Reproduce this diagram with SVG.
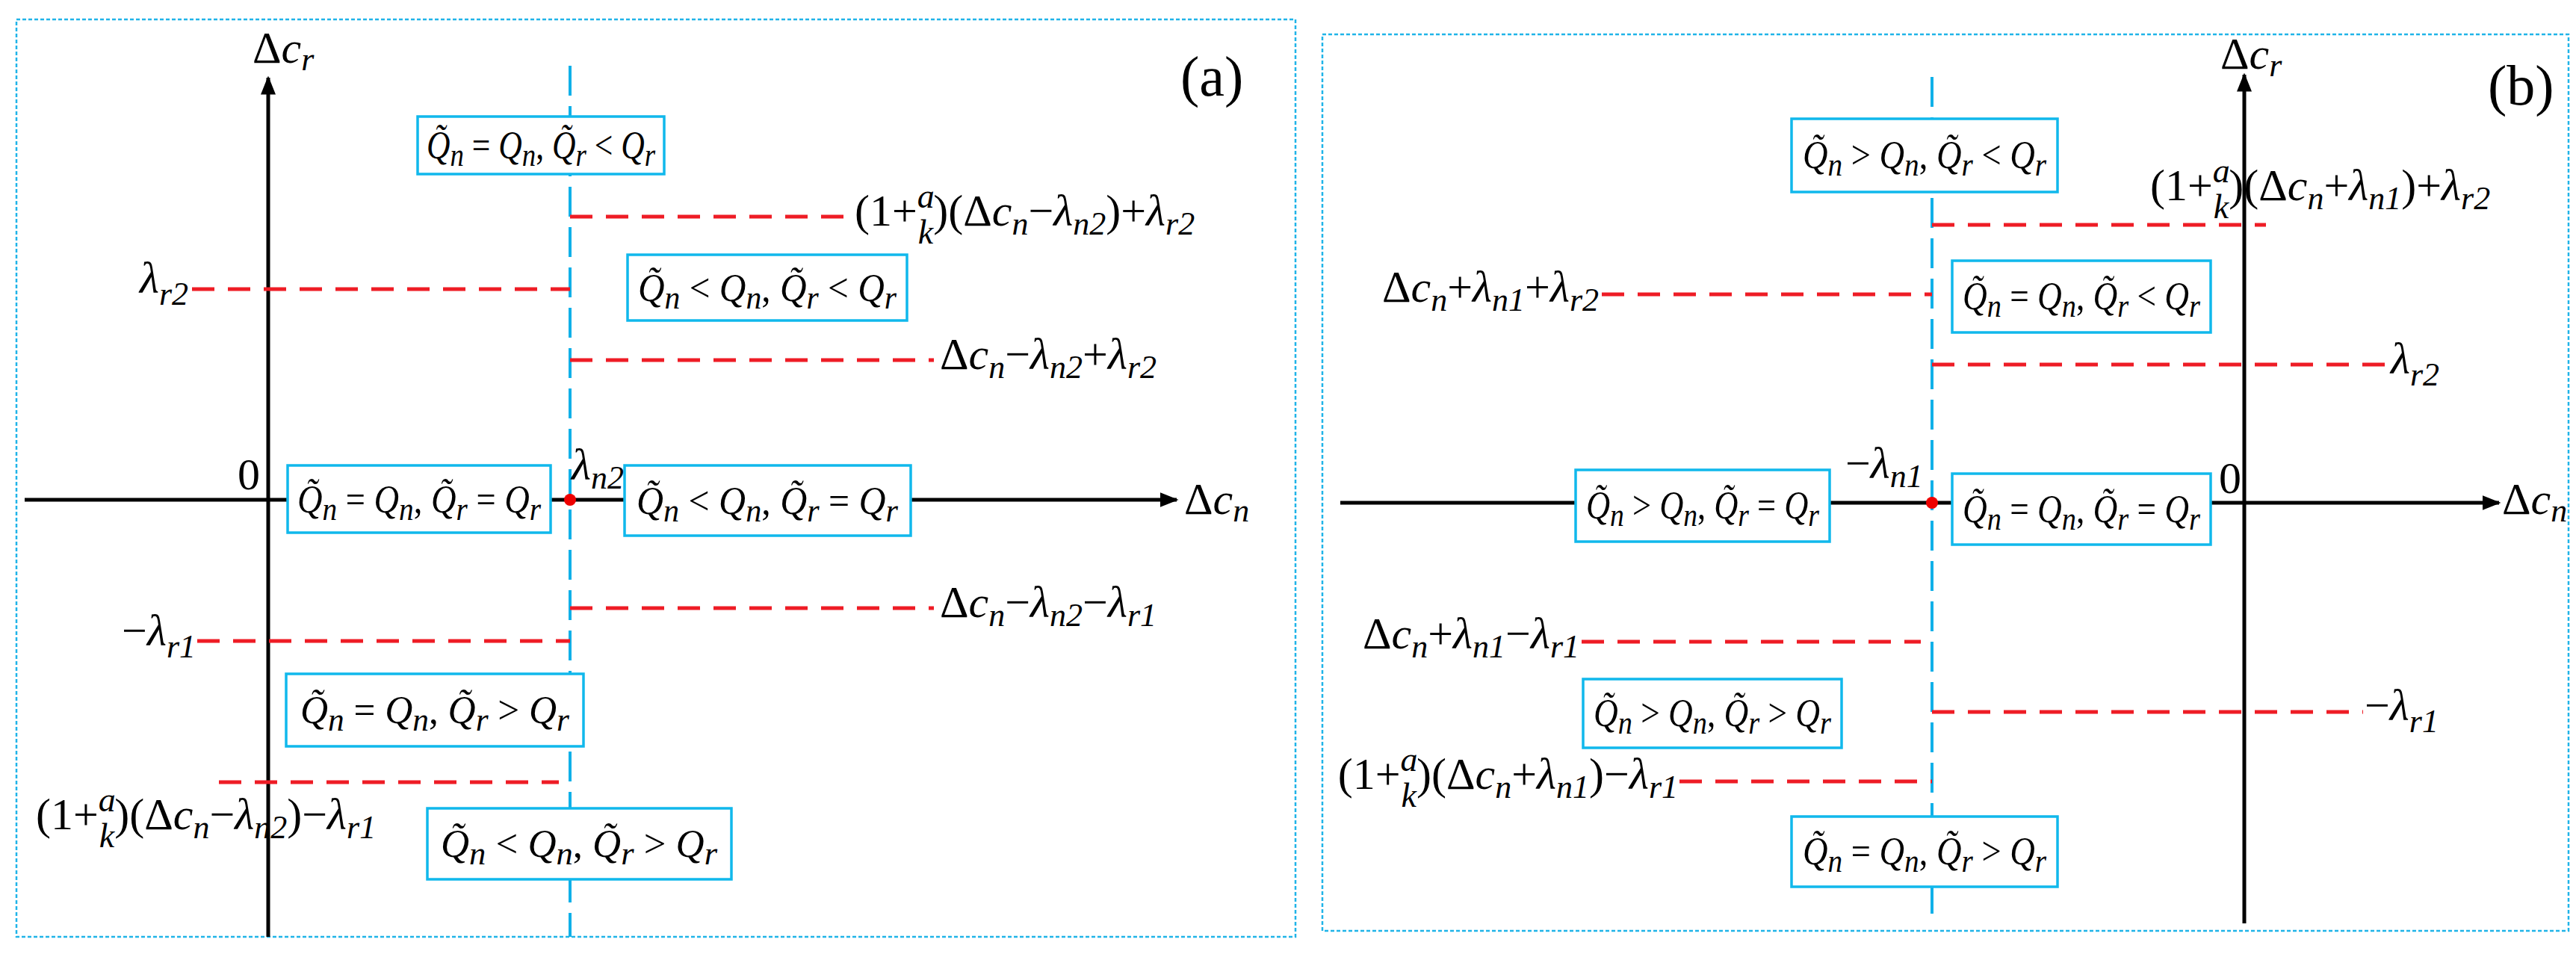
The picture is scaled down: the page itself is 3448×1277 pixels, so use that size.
<svg xmlns="http://www.w3.org/2000/svg" width="3448" height="1277" viewBox="0 0 3448 1277">
<style>
.t{font-family:"Liberation Serif",serif;font-size:60px;fill:#000}
.bt{font-family:"Liberation Serif",serif;font-size:52px;fill:#000}
.i{font-style:italic}
.s{font-size:44px}
.f{font-size:46px;font-style:italic}
.frame{fill:none;stroke:#20b4e8;stroke-width:2.5;stroke-dasharray:5 3}
.ax{stroke:#000;stroke-width:5;fill:none}
.rd{stroke:#ee1c25;stroke-width:5;stroke-dasharray:30 18;fill:none}
.cy{stroke:#10b0e8;stroke-width:4;stroke-dasharray:40 14;fill:none}
.box{fill:#fff;stroke:#10b8ec;stroke-width:3.5}
</style>
<defs>
<marker id="ar" viewBox="0 0 10 10" refX="9" refY="5" markerWidth="5" markerHeight="5" orient="auto" markerUnits="strokeWidth"><path d="M0,1 L10,5 L0,9 z" fill="#000"/></marker>
</defs>
<rect width="3448" height="1277" fill="#fff"/>
<rect class="frame" x="22" y="26" width="1712" height="1228"/>
<rect class="frame" x="1770" y="46" width="1668" height="1200"/>
<g id="connectors">
<line class="ax" x1="359" y1="1254" x2="359" y2="104" marker-end="url(#ar)"/>
<line class="ax" x1="33" y1="669" x2="1575" y2="669" marker-end="url(#ar)"/>
<line class="cy" x1="763" y1="88" x2="763" y2="1254"/>
<line class="rd" x1="763" y1="290" x2="1140" y2="290"/>
<line class="rd" x1="257" y1="387" x2="763" y2="387"/>
<line class="rd" x1="763" y1="482" x2="1250" y2="482"/>
<line class="rd" x1="763" y1="814" x2="1250" y2="814"/>
<line class="rd" x1="264" y1="858" x2="763" y2="858"/>
<line class="rd" x1="293" y1="1047" x2="748" y2="1047"/>
<circle cx="763" cy="669" r="8" fill="#e00"/>
<line class="ax" x1="3004" y1="1236" x2="3004" y2="100" marker-end="url(#ar)"/>
<line class="ax" x1="1794" y1="673" x2="3345" y2="673" marker-end="url(#ar)"/>
<line class="cy" x1="2586" y1="103" x2="2586" y2="1236"/>
<line class="rd" x1="2586" y1="301" x2="3033" y2="301"/>
<line class="rd" x1="2144" y1="394" x2="2586" y2="394"/>
<line class="rd" x1="2586" y1="488" x2="3195" y2="488"/>
<line class="rd" x1="2117" y1="859" x2="2571" y2="859"/>
<line class="rd" x1="2586" y1="953" x2="3163" y2="953"/>
<line class="rd" x1="2248" y1="1046" x2="2586" y2="1046"/>
<circle cx="2586" cy="673" r="8" fill="#e00"/>
</g>
<g id="a1"><rect class="box" x="559" y="156" width="330" height="77"/><text class="bt" x="724" y="212" text-anchor="middle" textLength="306" lengthAdjust="spacingAndGlyphs"><tspan class="i">Q̃</tspan><tspan class="i s" dy="10">n</tspan><tspan dy="-10"> = </tspan><tspan class="i">Q</tspan><tspan class="i s" dy="10">n</tspan><tspan dy="-10">, </tspan><tspan class="i">Q̃</tspan><tspan class="i s" dy="10">r</tspan><tspan dy="-10"> &lt; </tspan><tspan class="i">Q</tspan><tspan class="i s" dy="10">r</tspan></text></g>
<g id="a2"><rect class="box" x="840" y="341" width="374" height="88"/><text class="bt" x="1027" y="403" text-anchor="middle" textLength="346" lengthAdjust="spacingAndGlyphs"><tspan class="i">Q̃</tspan><tspan class="i s" dy="10">n</tspan><tspan dy="-10"> &lt; </tspan><tspan class="i">Q</tspan><tspan class="i s" dy="10">n</tspan><tspan dy="-10">, </tspan><tspan class="i">Q̃</tspan><tspan class="i s" dy="10">r</tspan><tspan dy="-10"> &lt; </tspan><tspan class="i">Q</tspan><tspan class="i s" dy="10">r</tspan></text></g>
<g id="a3"><rect class="box" x="385" y="623" width="352" height="90"/><text class="bt" x="561" y="686" text-anchor="middle" textLength="326" lengthAdjust="spacingAndGlyphs"><tspan class="i">Q̃</tspan><tspan class="i s" dy="10">n</tspan><tspan dy="-10"> = </tspan><tspan class="i">Q</tspan><tspan class="i s" dy="10">n</tspan><tspan dy="-10">, </tspan><tspan class="i">Q̃</tspan><tspan class="i s" dy="10">r</tspan><tspan dy="-10"> = </tspan><tspan class="i">Q</tspan><tspan class="i s" dy="10">r</tspan></text></g>
<g id="a4"><rect class="box" x="836" y="623" width="383" height="94"/><text class="bt" x="1027" y="688" text-anchor="middle" textLength="350" lengthAdjust="spacingAndGlyphs"><tspan class="i">Q̃</tspan><tspan class="i s" dy="10">n</tspan><tspan dy="-10"> &lt; </tspan><tspan class="i">Q</tspan><tspan class="i s" dy="10">n</tspan><tspan dy="-10">, </tspan><tspan class="i">Q̃</tspan><tspan class="i s" dy="10">r</tspan><tspan dy="-10"> = </tspan><tspan class="i">Q</tspan><tspan class="i s" dy="10">r</tspan></text></g>
<g id="a5"><rect class="box" x="383" y="902" width="398" height="97"/><text class="bt" x="582" y="968" text-anchor="middle" textLength="360" lengthAdjust="spacingAndGlyphs"><tspan class="i">Q̃</tspan><tspan class="i s" dy="10">n</tspan><tspan dy="-10"> = </tspan><tspan class="i">Q</tspan><tspan class="i s" dy="10">n</tspan><tspan dy="-10">, </tspan><tspan class="i">Q̃</tspan><tspan class="i s" dy="10">r</tspan><tspan dy="-10"> &gt; </tspan><tspan class="i">Q</tspan><tspan class="i s" dy="10">r</tspan></text></g>
<g id="a6"><rect class="box" x="572" y="1082" width="407" height="95"/><text class="bt" x="775" y="1147" text-anchor="middle" textLength="370" lengthAdjust="spacingAndGlyphs"><tspan class="i">Q̃</tspan><tspan class="i s" dy="10">n</tspan><tspan dy="-10"> &lt; </tspan><tspan class="i">Q</tspan><tspan class="i s" dy="10">n</tspan><tspan dy="-10">, </tspan><tspan class="i">Q̃</tspan><tspan class="i s" dy="10">r</tspan><tspan dy="-10"> &gt; </tspan><tspan class="i">Q</tspan><tspan class="i s" dy="10">r</tspan></text></g>
<g id="b1"><rect class="box" x="2398" y="159" width="356" height="98"/><text class="bt" x="2576" y="225" text-anchor="middle" textLength="326" lengthAdjust="spacingAndGlyphs"><tspan class="i">Q̃</tspan><tspan class="i s" dy="10">n</tspan><tspan dy="-10"> &gt; </tspan><tspan class="i">Q</tspan><tspan class="i s" dy="10">n</tspan><tspan dy="-10">, </tspan><tspan class="i">Q̃</tspan><tspan class="i s" dy="10">r</tspan><tspan dy="-10"> &lt; </tspan><tspan class="i">Q</tspan><tspan class="i s" dy="10">r</tspan></text></g>
<g id="b2"><rect class="box" x="2613" y="349" width="346" height="96"/><text class="bt" x="2786" y="414" text-anchor="middle" textLength="318" lengthAdjust="spacingAndGlyphs"><tspan class="i">Q̃</tspan><tspan class="i s" dy="10">n</tspan><tspan dy="-10"> = </tspan><tspan class="i">Q</tspan><tspan class="i s" dy="10">n</tspan><tspan dy="-10">, </tspan><tspan class="i">Q̃</tspan><tspan class="i s" dy="10">r</tspan><tspan dy="-10"> &lt; </tspan><tspan class="i">Q</tspan><tspan class="i s" dy="10">r</tspan></text></g>
<g id="b3"><rect class="box" x="2109" y="629" width="340" height="96"/><text class="bt" x="2279" y="694" text-anchor="middle" textLength="312" lengthAdjust="spacingAndGlyphs"><tspan class="i">Q̃</tspan><tspan class="i s" dy="10">n</tspan><tspan dy="-10"> &gt; </tspan><tspan class="i">Q</tspan><tspan class="i s" dy="10">n</tspan><tspan dy="-10">, </tspan><tspan class="i">Q̃</tspan><tspan class="i s" dy="10">r</tspan><tspan dy="-10"> = </tspan><tspan class="i">Q</tspan><tspan class="i s" dy="10">r</tspan></text></g>
<g id="b4"><rect class="box" x="2613" y="634" width="346" height="95"/><text class="bt" x="2786" y="699" text-anchor="middle" textLength="318" lengthAdjust="spacingAndGlyphs"><tspan class="i">Q̃</tspan><tspan class="i s" dy="10">n</tspan><tspan dy="-10"> = </tspan><tspan class="i">Q</tspan><tspan class="i s" dy="10">n</tspan><tspan dy="-10">, </tspan><tspan class="i">Q̃</tspan><tspan class="i s" dy="10">r</tspan><tspan dy="-10"> = </tspan><tspan class="i">Q</tspan><tspan class="i s" dy="10">r</tspan></text></g>
<g id="b5"><rect class="box" x="2119" y="909" width="346" height="92"/><text class="bt" x="2292" y="972" text-anchor="middle" textLength="318" lengthAdjust="spacingAndGlyphs"><tspan class="i">Q̃</tspan><tspan class="i s" dy="10">n</tspan><tspan dy="-10"> &gt; </tspan><tspan class="i">Q</tspan><tspan class="i s" dy="10">n</tspan><tspan dy="-10">, </tspan><tspan class="i">Q̃</tspan><tspan class="i s" dy="10">r</tspan><tspan dy="-10"> &gt; </tspan><tspan class="i">Q</tspan><tspan class="i s" dy="10">r</tspan></text></g>
<g id="b6"><rect class="box" x="2398" y="1093" width="356" height="94"/><text class="bt" x="2576" y="1157" text-anchor="middle" textLength="326" lengthAdjust="spacingAndGlyphs"><tspan class="i">Q̃</tspan><tspan class="i s" dy="10">n</tspan><tspan dy="-10"> = </tspan><tspan class="i">Q</tspan><tspan class="i s" dy="10">n</tspan><tspan dy="-10">, </tspan><tspan class="i">Q̃</tspan><tspan class="i s" dy="10">r</tspan><tspan dy="-10"> &gt; </tspan><tspan class="i">Q</tspan><tspan class="i s" dy="10">r</tspan></text></g>
<g id="labels">
<text class="t" x="1580" y="128" style="font-size:76px">(a)</text>
<text class="t" x="3330" y="140" style="font-size:76px">(b)</text>
<text class="t" x="338" y="84">Δ<tspan class="i">c</tspan><tspan class="i s" dy="10">r</tspan></text>
<text class="t" x="1585" y="688">Δ<tspan class="i">c</tspan><tspan class="i s" dy="10">n</tspan></text>
<text class="t" x="318" y="655">0</text>
<text class="t i" x="765" y="642">λ<tspan class="s" dy="12">n2</tspan></text>
<text class="t" x="252" y="392" text-anchor="end"><tspan class="i">λ</tspan><tspan class="i s" dy="16">r2</tspan></text>
<text class="t" x="262" y="864" text-anchor="end">−<tspan class="i">λ</tspan><tspan class="i s" dy="16">r1</tspan></text>
<text class="t" x="1144" y="302">(1+<tspan class="f" dy="-24">a</tspan><tspan class="f" dx="-22" dy="48">k</tspan><tspan dy="-24">)(Δ</tspan><tspan class="i">c</tspan><tspan class="i s" dy="12">n</tspan><tspan dy="-12">−</tspan><tspan class="i">λ</tspan><tspan class="i s" dy="12">n2</tspan><tspan dy="-12">)+</tspan><tspan class="i">λ</tspan><tspan class="i s" dy="12">r2</tspan></text>
<text class="t" x="1258" y="494">Δ<tspan class="i">c</tspan><tspan class="i s" dy="12">n</tspan><tspan dy="-12">−</tspan><tspan class="i">λ</tspan><tspan class="i s" dy="12">n2</tspan><tspan dy="-12">+</tspan><tspan class="i">λ</tspan><tspan class="i s" dy="12">r2</tspan></text>
<text class="t" x="1258" y="826">Δ<tspan class="i">c</tspan><tspan class="i s" dy="12">n</tspan><tspan dy="-12">−</tspan><tspan class="i">λ</tspan><tspan class="i s" dy="12">n2</tspan><tspan dy="-12">−</tspan><tspan class="i">λ</tspan><tspan class="i s" dy="12">r1</tspan></text>
<text class="t" x="48" y="1110">(1+<tspan class="f" dy="-24">a</tspan><tspan class="f" dx="-22" dy="48">k</tspan><tspan dy="-24">)(Δ</tspan><tspan class="i">c</tspan><tspan class="i s" dy="12">n</tspan><tspan dy="-12">−</tspan><tspan class="i">λ</tspan><tspan class="i s" dy="12">n2</tspan><tspan dy="-12">)−</tspan><tspan class="i">λ</tspan><tspan class="i s" dy="12">r1</tspan></text>
<text class="t" x="2972" y="92">Δ<tspan class="i">c</tspan><tspan class="i s" dy="10">r</tspan></text>
<text class="t" x="3349" y="688">Δ<tspan class="i">c</tspan><tspan class="i s" dy="10">n</tspan></text>
<text class="t" x="2970" y="660">0</text>
<text class="t" x="2470" y="640">−<tspan class="i">λ</tspan><tspan class="i s" dy="12">n1</tspan></text>
<text class="t" x="2878" y="268">(1+<tspan class="f" dy="-24">a</tspan><tspan class="f" dx="-22" dy="48">k</tspan><tspan dy="-24">)(Δ</tspan><tspan class="i">c</tspan><tspan class="i s" dy="12">n</tspan><tspan dy="-12">+</tspan><tspan class="i">λ</tspan><tspan class="i s" dy="12">n1</tspan><tspan dy="-12">)+</tspan><tspan class="i">λ</tspan><tspan class="i s" dy="12">r2</tspan></text>
<text class="t" x="2140" y="404" text-anchor="end">Δ<tspan class="i">c</tspan><tspan class="i s" dy="12">n</tspan><tspan dy="-12">+</tspan><tspan class="i">λ</tspan><tspan class="i s" dy="12">n1</tspan><tspan dy="-12">+</tspan><tspan class="i">λ</tspan><tspan class="i s" dy="12">r2</tspan></text>
<text class="t" x="3200" y="500"><tspan class="i">λ</tspan><tspan class="i s" dy="16">r2</tspan></text>
<text class="t" x="2114" y="868" text-anchor="end">Δ<tspan class="i">c</tspan><tspan class="i s" dy="12">n</tspan><tspan dy="-12">+</tspan><tspan class="i">λ</tspan><tspan class="i s" dy="12">n1</tspan><tspan dy="-12">−</tspan><tspan class="i">λ</tspan><tspan class="i s" dy="12">r1</tspan></text>
<text class="t" x="3165" y="964">−<tspan class="i">λ</tspan><tspan class="i s" dy="16">r1</tspan></text>
<text class="t" x="2246" y="1056" text-anchor="end">(1+<tspan class="f" dy="-24">a</tspan><tspan class="f" dx="-22" dy="48">k</tspan><tspan dy="-24">)(Δ</tspan><tspan class="i">c</tspan><tspan class="i s" dy="12">n</tspan><tspan dy="-12">+</tspan><tspan class="i">λ</tspan><tspan class="i s" dy="12">n1</tspan><tspan dy="-12">)−</tspan><tspan class="i">λ</tspan><tspan class="i s" dy="12">r1</tspan></text>
</g>
</svg>
